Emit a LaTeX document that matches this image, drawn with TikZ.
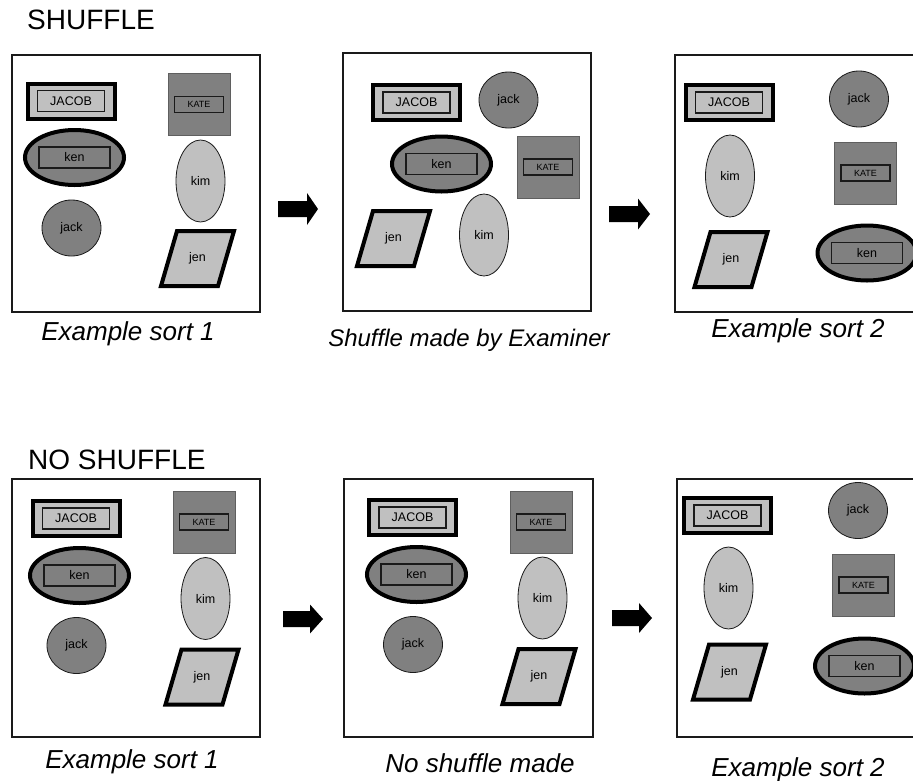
\documentclass[tikz,border=0pt]{standalone}
\usepackage{fontspec}
\setmainfont{Liberation Sans}
\usetikzlibrary{shapes.geometric,calc}
\definecolor{dgray}{HTML}{808080}
\definecolor{lgray}{HTML}{C0C0C0}
\definecolor{edge}{HTML}{1A1A1A}
\tikzset{
  frame/.style={draw=edge, line width=2pt},
  jacobout/.style={draw=black, line width=4pt, fill=lgray, minimum width=87pt, minimum height=35pt, inner sep=0pt},
  jacobin/.style={draw=edge, line width=1.5pt, fill=lgray, minimum width=67pt, minimum height=21pt, inner sep=0pt, font=\fontsize{12.5}{12.5}\selectfont},
  katebox/.style={draw=edge!70, line width=0.8pt, fill=dgray, minimum width=62pt, minimum height=62pt, inner sep=0pt},
  katein/.style={draw=edge, line width=1.2pt, fill=dgray, minimum width=49pt, minimum height=16pt, inner sep=0pt, font=\fontsize{9}{9}\selectfont},
  kenout/.style={ellipse, draw=black, line width=4pt, fill=dgray, minimum width=99pt, minimum height=55pt, inner sep=0pt},
  kenin/.style={draw=edge, line width=1.5pt, fill=dgray, minimum width=71pt, minimum height=21pt, inner sep=0pt, font=\fontsize{12.5}{12.5}\selectfont},
  kimell/.style={ellipse, draw=edge, line width=0.8pt, fill=lgray, minimum width=49pt, minimum height=82pt, inner sep=0pt, font=\fontsize{12.5}{12.5}\selectfont},
  jackell/.style={ellipse, draw=edge, line width=0.8pt, fill=dgray, minimum width=59pt, minimum height=56pt, inner sep=0pt, font=\fontsize{12.5}{12.5}\selectfont},
  jenpar/.style={draw=black, line width=4pt, fill=lgray, line join=miter},
  lbl/.style={font=\fontsize{12.5}{12.5}\selectfont, inner sep=0pt},
  caption/.style={font=\fontsize{26}{26}\selectfont\itshape, anchor=base, inner sep=0pt},
  smallcaption/.style={font=\fontsize{24}{24}\selectfont\itshape, anchor=base, inner sep=0pt},
  title/.style={font=\fontsize{28}{28}\selectfont, anchor=base west, inner sep=0pt},
  blockarrow/.style={fill=black}
}
\newcommand\Jacob[3]{\node[jacobout] (#1) at (#2,#3) {}; \node[jacobin] (#1i) at (#1.center) {JACOB};}
\newcommand\Kate[3]{\node[katebox] (#1) at (#2,#3) {}; \node[katein] (#1i) at (#1.center) {KATE};}
\newcommand\Ken[3]{\node[kenout] (#1) at (#2,#3) {}; \node[kenin] (#1i) at (#1.center) {ken};}
\newcommand\Kim[3]{\node[kimell] (#1) at (#2,#3) {kim};}
\newcommand\Jack[3]{\node[jackell] (#1) at (#2,#3) {jack};}
\newcommand\Jen[3]{\coordinate (#1c) at (#2,#3);
  \draw[jenpar] ($(#1c)+(-36.5,27.5)$) -- ($(#1c)+(-20.5,-27.5)$) -- ($(#1c)+(36.5,-27.5)$) -- ($(#1c)+(20.5,27.5)$) -- cycle;
  \node[lbl] (#1) at (#1c) {jen};}
% name, start x, tip x, centre y, head half-height, head length
\newcommand\BArrow[6]{\coordinate (#1) at (#2,#4);
  \fill[blockarrow] (#2,#4-8) -- (#3-#6,#4-8) -- (#3-#6,#4-#5) -- (#3,#4) -- (#3-#6,#4+#5) -- (#3-#6,#4+8) -- (#2,#4+8) -- cycle;}
\begin{document}
\begin{tikzpicture}[x=1pt,y=-1pt]
\clip (0,0) rectangle (913,780);
\fill[white] (0,0) rectangle (913,780);
% titles
\node[title] (t1) at (27,29) {SHUFFLE};
\node[title] (t2) at (28,469) {NO SHUFFLE};
% frames
\draw[frame] (12,55) rectangle (260,312);
\draw[frame] (343,53) rectangle (591,311);
\draw[frame] (675,55) rectangle (930,312);
\draw[frame] (12,479) rectangle (260,737);
\draw[frame] (344,479) rectangle (593,737);
\draw[frame] (677,479) rectangle (930,737);
% panel T1
\Jacob{ja1}{71}{101}
\Kate{ka1}{199}{104.5}
\Ken{ke1}{74.5}{157.5}
\Kim{ki1}{200.5}{181}
\Jack{jk1}{71.5}{228}
\Jen{je1}{197.5}{258.5}
% panel T2
\Jacob{ja2}{416.5}{102.5}
\Jack{jk2}{508.5}{100}
\Ken{ke2}{441.5}{164}
\Kate{ka2}{548}{167}
\Jen{je2}{393.5}{238.5}
\Kim{ki2}{484}{235}
% panel T3
\Jacob{ja3}{729}{102.5}
\Jack{jk3}{859}{99}
\Kim{ki3}{730}{176}
\Kate{ka3}{865.5}{173}
\Jen{je3}{731}{259.5}
\Ken{ke3}{867}{253}
% panel B1
\Jacob{ja4}{76}{518.5}
\Kate{ka4}{204}{522}
\Ken{ke4}{79.5}{575.5}
\Kim{ki4}{205.5}{598.5}
\Jack{jk4}{76.5}{645.5}
\Jen{je4}{202}{677}
% panel B2
\Jacob{ja5}{412.5}{517.5}
\Kate{ka5}{541}{522}
\Ken{ke5}{416.5}{574.5}
\Kim{ki5}{542.5}{598}
\Jack{jk5}{413}{644.5}
\Jen{je5}{539}{676.5}
% panel B3
\Jacob{ja6}{727.5}{515.5}
\Jack{jk6}{858}{510.5}
\Kim{ki6}{728.5}{588}
\Kate{ka6}{863.5}{585}
\Jen{je6}{729.5}{672}
\Ken{ke6}{864.5}{666}
% arrows
\BArrow{ar1}{278}{318}{209}{16}{11}
\BArrow{ar2}{609}{650}{214}{15.5}{12}
\BArrow{ar3}{283}{323}{619}{14.5}{13}
\BArrow{ar4}{612}{652}{618}{15}{13}
% captions
\node[caption] (c1) at (128,340) {Example sort 1};
\node[smallcaption] (c2) at (469,346) {Shuffle made by Examiner};
\node[caption] (c3) at (798,337) {Example sort 2};
\node[caption] (c4) at (132,768) {Example sort 1};
\node[caption] (c5) at (480,772) {No shuffle made};
\node[caption] (c6) at (798,776) {Example sort 2};
\end{tikzpicture}
\end{document}
